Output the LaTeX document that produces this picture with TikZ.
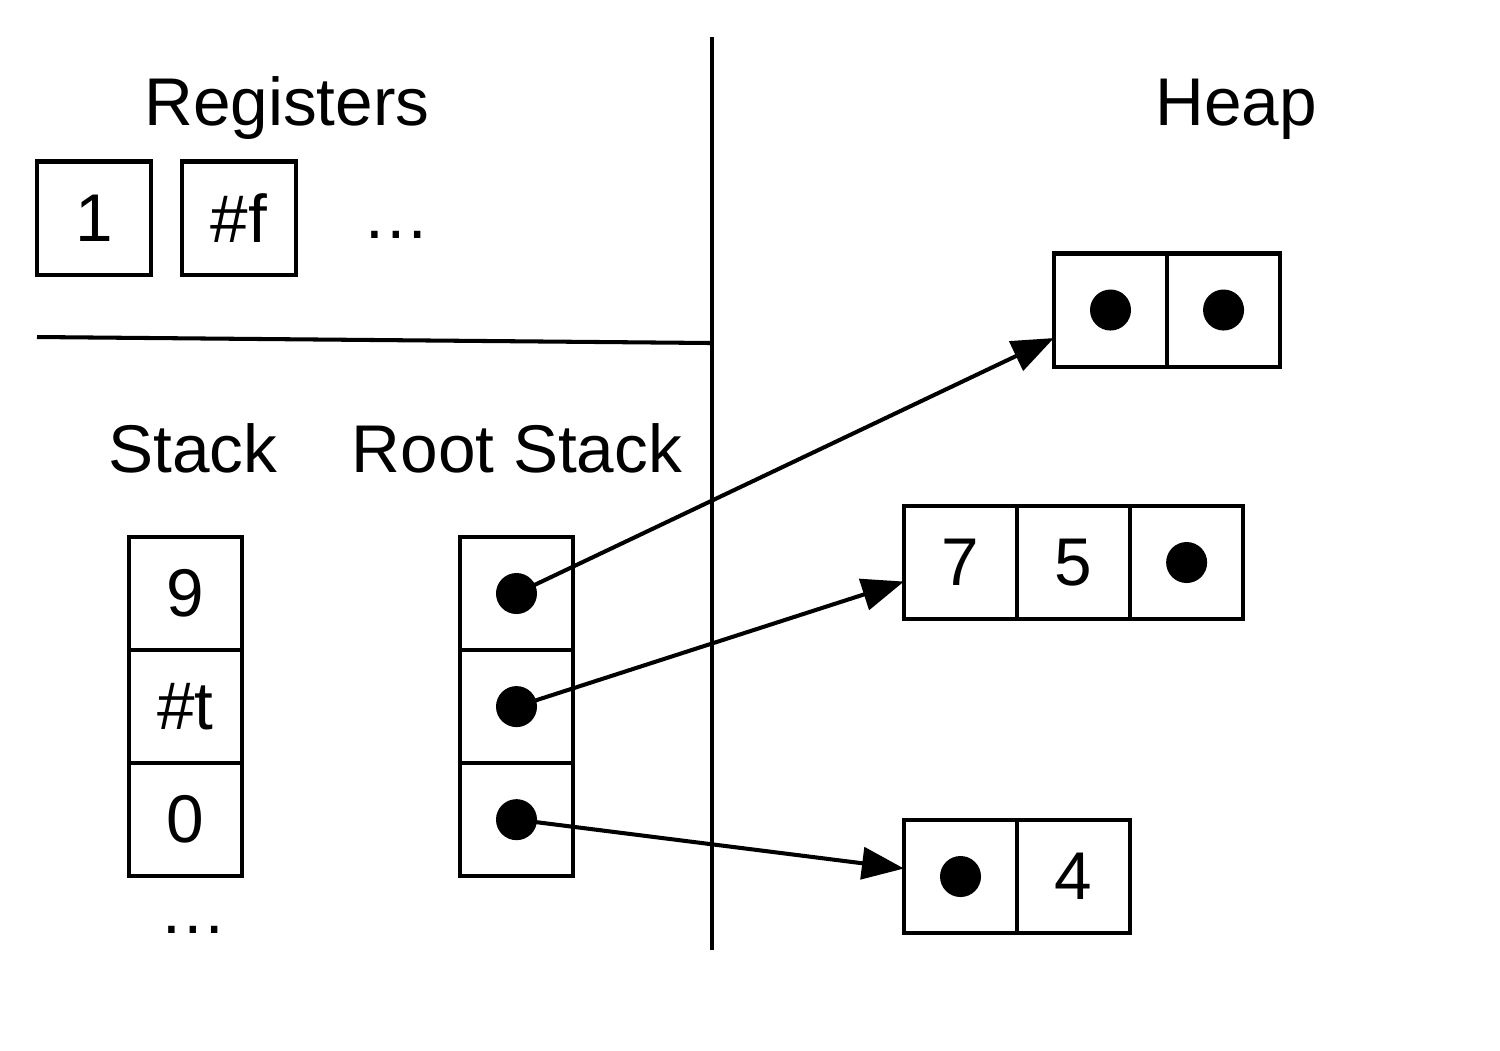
\documentclass[tikz,border=0pt]{standalone}
\usepackage{fontspec}
\setmainfont{Liberation Sans}
\usepackage{tikz}
\usetikzlibrary{positioning,arrows.meta}

\begin{document}
\begin{tikzpicture}%
  [x=0.01cm,y=-0.01cm,line width=1.15pt,
   font=\fontsize{19.2}{22}\selectfont]
  \tikzstyle{cell node}=[rectangle,draw,outer sep=0,inner sep=0,minimum size=1.13cm]
  \tikzstyle{dot node}=[circle,fill,inner sep=0,minimum size=0.41cm]
  \tikzstyle{ptr}=[-{Triangle[length=0.42cm,width=0.32cm]}]
  \useasboundingbox (0,0) rectangle (1500,1050);
  % dividers
  \coordinate (top) at (712,37);
  \coordinate (bot) at (712,950);
  \coordinate (lft) at (37,337);
  \coordinate (mid) at (712,343);
  \draw (top) -- (bot);
  \draw (lft) -- (mid);
  % titles
  \node(regs)[anchor=base] at (287,125) {Registers};
  \node(heap)[anchor=base] at (1236,125) {Heap};
  \node(stk)[anchor=base] at (193,472) {Stack};
  \node(rstk)[anchor=base] at (517,472) {Root Stack};
  % registers
  \node(g1)[cell node] at (94,218) {1};
  \node(g2)[cell node] at (239,218) {\#f};
  \node(gd)[anchor=base] at (396,238) {\dots};
  % stack
  \node(s1)[cell node] at (185.5,593.5) {9};
  \node(s2)[cell node,below=0pt of s1] {\#t};
  \node(s3)[cell node,below=0pt of s2] {0};
  \node(sd)[anchor=base] at (193,933) {\dots};
  % root stack
  \node(r1)[cell node] at (516.5,593.5) {};
  \node(r2)[cell node,below=0pt of r1] {};
  \node(r3)[cell node,below=0pt of r2] {};
  \node(p1)[dot node] at (r1.center) {};
  \node(p2)[dot node] at (r2.center) {};
  \node(p3)[dot node] at (r3.center) {};
  % heap
  \node(a1)[cell node] at (1110.5,310) {};
  \node(a2)[cell node,right=0pt of a1] {};
  \node[dot node] at (a1.center) {};
  \node[dot node] at (a2.center) {};
  \node(b1)[cell node] at (960.5,562.5) {7};
  \node(b2)[cell node,right=0pt of b1] {5};
  \node(b3)[cell node,right=0pt of b2] {};
  \node[dot node] at (b3.center) {};
  \node(c1)[cell node] at (960.5,876.5) {};
  \node(c2)[cell node,right=0pt of c1] {4};
  \node[dot node] at (c1.center) {};
  % pointers
  \draw[ptr] (p1.center) -- ([yshift=-0.28cm]a1.west);
  \draw[ptr] (p2.center) -- ([yshift=-0.19cm]b1.west);
  \draw[ptr] (p3.center) -- ([yshift=0.08cm]c1.west);
\end{tikzpicture}
\end{document}
